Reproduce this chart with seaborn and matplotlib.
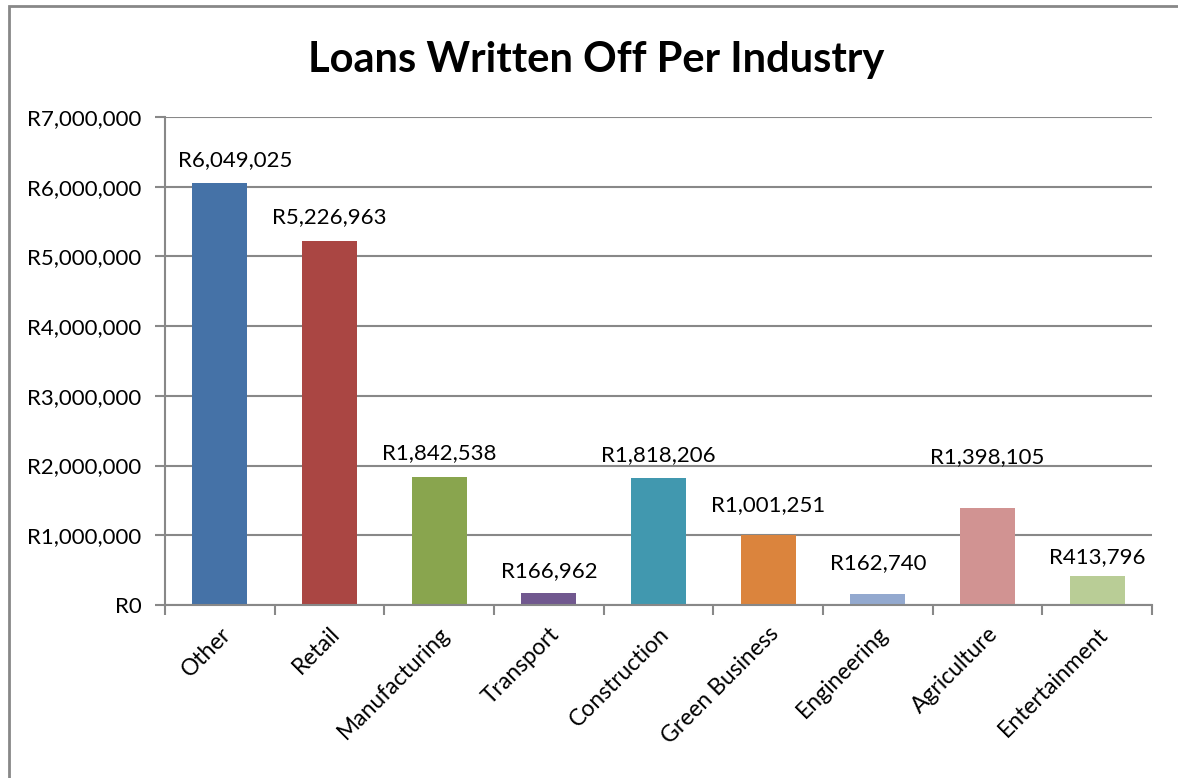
import matplotlib
matplotlib.use("Agg")
import matplotlib.pyplot as plt
import seaborn as sns
import pandas as pd
from matplotlib.patches import Rectangle
from matplotlib.ticker import FuncFormatter, MultipleLocator

industries = ["Other", "Retail", "Manufacturing", "Transport", "Construction",
              "Green Business", "Engineering", "Agriculture", "Entertainment"]
amounts = [6049025, 5226963, 1842538, 166962, 1818206, 1001251, 162740, 1398105, 413796]
colors = ["#4572A7", "#AA4643", "#89A54E", "#71588F", "#4198AF",
          "#DB843D", "#93A9CF", "#D19392", "#B9CD96"]
label_offsets_pt = [17, 17, 17, 16, 17, 22, 22, 36, 14]
label_xshift_pt = [11, 0, 0, 0, 0, 0, 0, 0, 0]

sns.set_style("white")
plt.rcParams["font.family"] = ["Lato", "DejaVu Sans"]
plt.rcParams["text.color"] = "black"
plt.rcParams["xtick.color"] = "black"
plt.rcParams["ytick.color"] = "black"

df = pd.DataFrame({"industry": industries, "amount": amounts})

fig = plt.figure(figsize=(11.78, 7.78), dpi=100)
ax = fig.add_axes([165/1178, 1-605/778, (1152-165)/1178, (605-117)/778])

sns.barplot(data=df, x="industry", y="amount", hue="industry", palette=colors,
            legend=False, width=0.5, ax=ax, saturation=1, linewidth=0)

ax.set_ylim(0, 7000000)
ax.set_xlim(-0.5, len(industries)-0.5)
ax.yaxis.set_major_locator(MultipleLocator(1000000))
ax.yaxis.set_major_formatter(FuncFormatter(lambda v, p: f"R{int(v):,}"))
ax.grid(axis="y", color="#888888", linewidth=1.5)
ax.set_axisbelow(True)
for s in ["top", "right"]:
    ax.spines[s].set_visible(False)
for s in ["left", "bottom"]:
    ax.spines[s].set_color("#888888")
    ax.spines[s].set_linewidth(1.5)
ax.tick_params(axis="y", length=7, width=1.5, color="#888888", labelcolor="black",
               labelsize=16, pad=10, left=True)
ax.set_xticks([i + 0.5 for i in range(-1, len(industries))], minor=True)
ax.tick_params(axis="x", which="minor", length=7, width=1.5, color="#888888", bottom=True)
ax.tick_params(axis="x", which="major", length=0, labelsize=16.5, pad=13, labelcolor="black")
ax.set_xticks(range(len(industries)))
ax.set_xticklabels(industries, rotation=45, ha="right", rotation_mode="anchor")
ax.set_xlabel("")
ax.set_ylabel("")

for i, (v, off, dx) in enumerate(zip(amounts, label_offsets_pt, label_xshift_pt)):
    ax.annotate(f"R{v:,}", (i, v), xytext=(dx, off), textcoords="offset points",
                ha="center", va="center", fontsize=16, color="black")

fig.text(596/1178, 1-60/778, "Loans Written Off Per Industry", ha="center", va="center",
         fontsize=30, fontweight="bold", color="black")

fig.patches.append(Rectangle((9/1178, -0.1), 2, 1.1 - 6/778, transform=fig.transFigure,
                             fill=False, edgecolor="#888888", linewidth=2))

fig.savefig("out.png", dpi=100)
